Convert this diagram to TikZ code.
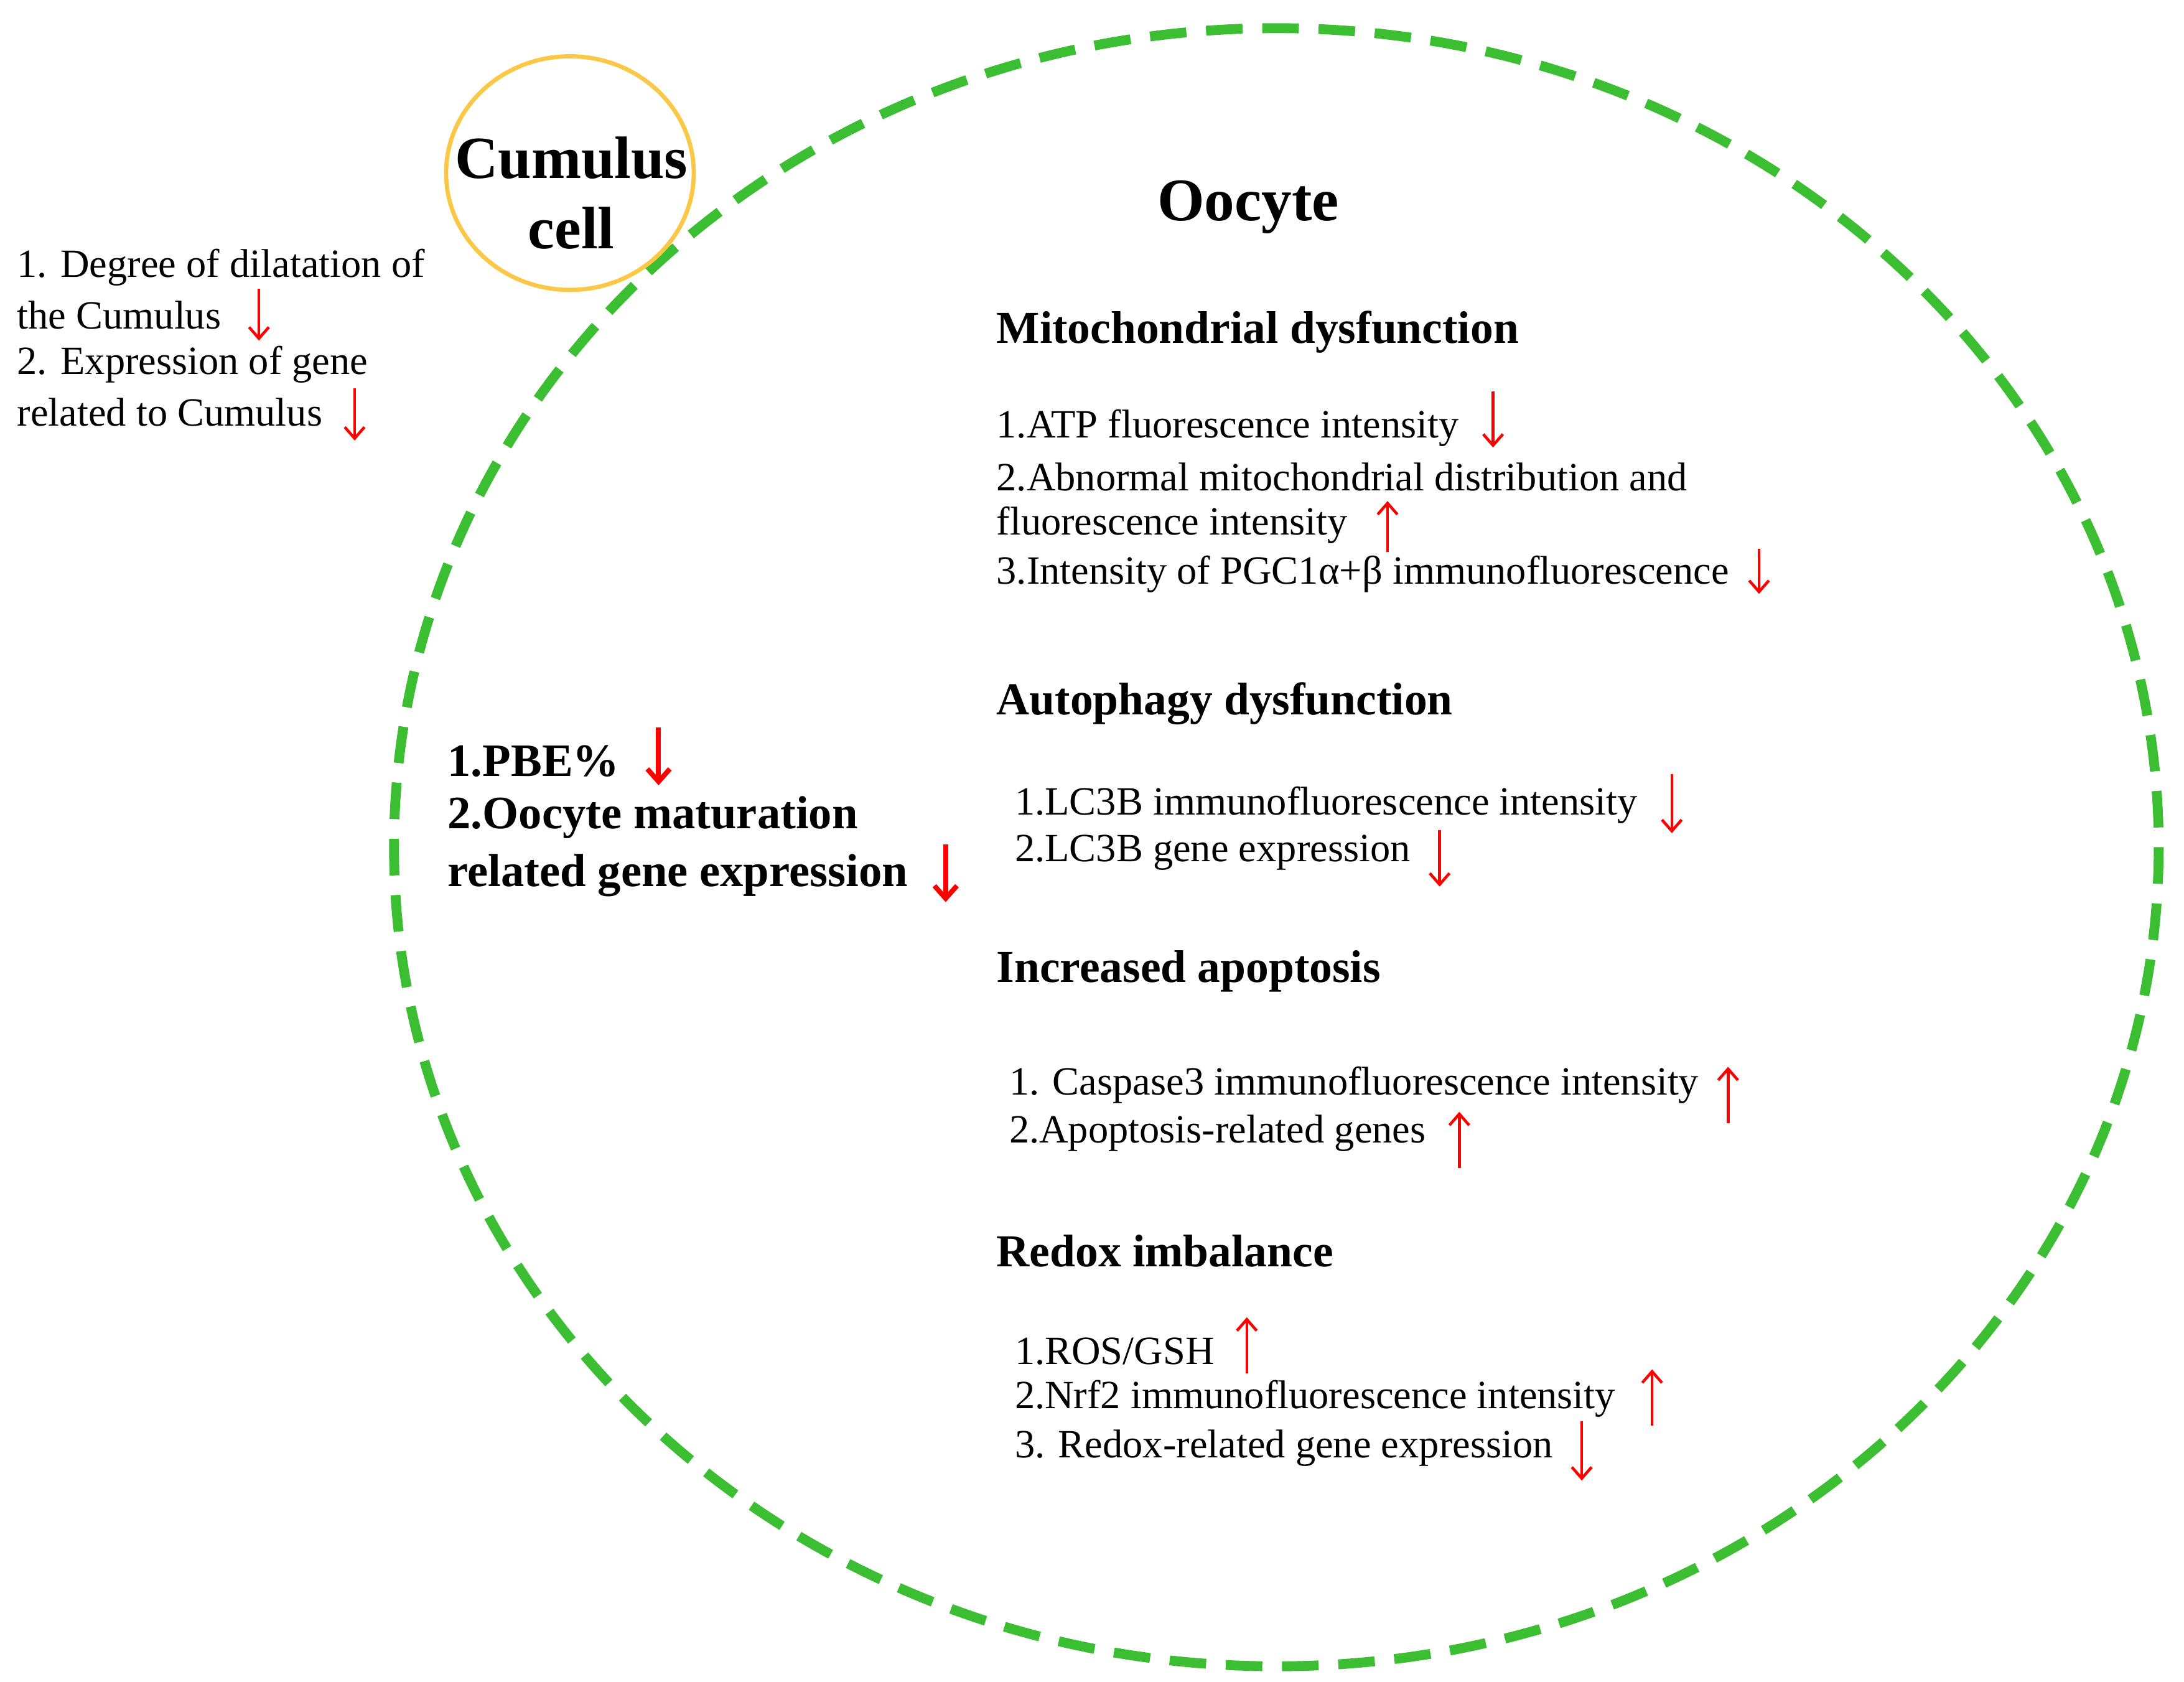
\documentclass[tikz,border=0pt]{standalone}
\usepackage{fontspec}
\setmainfont{Liberation Serif}
\usetikzlibrary{arrows.meta}
\begin{document}
\begin{tikzpicture}[x=1pt,y=-1pt,
  txt/.style={anchor=west,inner sep=0pt,font=\fontsize{28.5}{34}\selectfont},
  hd/.style={anchor=west,inner sep=0pt,font=\fontsize{32.5}{38}\selectfont\bfseries},
  pbe/.style={anchor=west,inner sep=0pt,font=\fontsize{33}{40}\selectfont\bfseries},
  arr/.style={red,line width=2pt,-{Straight Barb[length=8pt,width=14pt]}},
  barr/.style={red,line width=3.5pt,-{Straight Barb[length=9pt,width=16pt]}}]
\useasboundingbox (0,0) rectangle (1552,1195);
\draw[color={rgb,255:red,60;green,190;blue,50},line width=7pt,dash pattern=on 26pt off 14pt] (907,602) ellipse [x radius=627,y radius=582];
\draw[color={rgb,255:red,250;green,200;blue,70},line width=3pt] (405,123) ellipse [x radius=88,y radius=83];
\node[font=\fontsize{42.5}{50}\selectfont\bfseries,align=center,inner sep=0pt] (cc) at (406,137) {Cumulus\\cell};
\node[font=\fontsize{43}{48}\selectfont\bfseries,inner sep=0pt] (oo) at (887,147) {Oocyte};
% cumulus list
\node[txt] (c1) at (12,190) {1. Degree of dilatation of};
\node[txt] (c2) at (12,224) {the Cumulus};
\node[txt] (c3) at (12,259) {2. Expression of gene};
\node[txt] (c4) at (12,293) {related to Cumulus};
\draw[arr] (184,205) -- (184,242);
\draw[arr] (252,276) -- (252,313);
% mito
\node[hd] (h1) at (708,236) {Mitochondrial dysfunction};
\node[txt] (m1) at (708,304) {1.ATP fluorescence intensity};
\node[txt] (m2) at (708,339) {2.Abnormal mitochondrial distribution and};
\node[txt] (m3) at (708,373) {fluorescence intensity};
\node[txt] (m4) at (708,408) {3.Intensity of PGC1α+β immunofluorescence};
\draw[arr] (1061,278) -- (1061,318);
\draw[arr] (986,392) -- (986,356);
\draw[arr] (1250,390) -- (1250,422);
% autophagy
\node[hd] (h2) at (708,500) {Autophagy dysfunction};
\node[txt] (a1) at (721,572) {1.LC3B immunofluorescence intensity};
\node[txt] (a2) at (721,606) {2.LC3B gene expression};
\draw[arr] (1188,550) -- (1188,592);
\draw[arr] (1023,590) -- (1023,630);
% apoptosis
\node[hd] (h3) at (708,690) {Increased apoptosis};
\node[txt] (p1) at (717,771) {1. Caspase3 immunofluorescence intensity};
\node[txt] (p2) at (717,805) {2.Apoptosis-related genes};
\draw[arr] (1228,798) -- (1228,758);
\draw[arr] (1037,830) -- (1037,790);
% redox
\node[hd] (h4) at (708,889) {Redox imbalance};
\node[txt] (r1) at (721,960) {1.ROS/GSH};
\node[txt] (r2) at (721,994) {2.Nrf2 immunofluorescence intensity};
\node[txt] (r3) at (721,1029) {3. Redox-related gene expression};
\draw[arr] (886,976) -- (886,936);
\draw[arr] (1174,1013) -- (1174,973);
\draw[arr] (1124,1010) -- (1124,1052);
% PBE
\node[pbe] (b1) at (318,541) {1.PBE\%};
\node[pbe] (b2) at (318,581) {2.Oocyte maturation};
\node[pbe] (b3) at (318,622) {related gene expression};
\draw[barr] (468,517) -- (468,558);
\draw[barr] (672,600) -- (672,641);
\end{tikzpicture}
\end{document}
